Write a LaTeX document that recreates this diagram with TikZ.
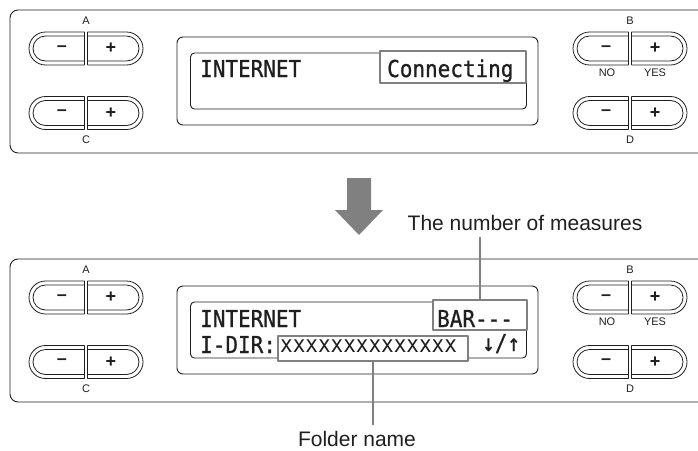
\documentclass[tikz,border=0pt]{standalone}
\usepackage{fontspec}
\setmainfont{Liberation Sans}
\newfontfamily\lcdfont[FakeStretch=0.9, FakeBold=0.8]{DejaVu Sans Mono}
\newfontfamily\thinlcdfont[FakeStretch=0.9]{DejaVu Sans Mono}
\definecolor{ink}{gray}{0.12}
\definecolor{hlgray}{gray}{0.5}
\tikzset{
  keylbl/.style={font=\fontsize{11}{13}\selectfont, text=ink, inner sep=0pt},
  pm/.style={font=\bfseries\fontsize{18}{20}\selectfont, text=ink, inner sep=0pt},
  lcd/.style={font=\lcdfont\fontsize{23.3}{26}\selectfont, text=ink, anchor=base west, inner sep=0pt},
  thinlcd/.style={font=\thinlcdfont\fontsize{23.3}{26}\selectfont, text=ink, anchor=base west, inner sep=0pt},
  hlbox/.style={draw=hlgray, line width=2pt, fill=white, inner sep=0pt},
  callout/.style={font=\fontsize{21}{24}\selectfont, text=ink, inner sep=0pt, outer sep=7pt},
  leader/.style={draw=hlgray, line width=2pt},
}
\begin{document}
\begin{tikzpicture}[x=1pt, y=-1pt, line join=round, line cap=round]
\useasboundingbox (0,0) rectangle (698,450);
\clip (0,0) rectangle (698,450);
% panel, keys and display frame, twice
\foreach \dy/\p in {0/t,249/b}{
  \begin{scope}[yshift=-\dy pt, ink, line width=0.9pt]
    \draw[rounded corners=8pt] (10,10) rectangle (730,153);
    \draw[rounded corners=6pt] (177,37) rectangle (538,125);
    \draw[rounded corners=4pt] (190.5,53) rectangle (526.5,109);
    \foreach \cx/\cy/\k in {86/48.5/A, 630/48.5/B, 86/113/C, 630/113/D}{
      \draw[line width=0.8pt, rounded corners=16.5pt] (\cx-57,\cy-16.5) rectangle (\cx+57,\cy+16.5);
      \draw[line width=0.8pt, rounded corners=12.5pt] (\cx-53,\cy-12.5) rectangle (\cx+53,\cy+12.5);
      \fill[white] (\cx-1.8,\cy-17.5) rectangle (\cx+1.8,\cy+17.5);
      \draw[line width=0.8pt] (\cx-1.8,\cy-16.5) -- (\cx-1.8,\cy+16.5) (\cx+1.8,\cy-16.5) -- (\cx+1.8,\cy+16.5);
      \node[pm] (minus\k\p) at (\cx-24,\cy) {–};
      \node[pm] (plus\k\p) at (\cx+25,\cy) {+};
    }
    \path (86,21) node[keylbl] (lblA\p) {A} (630,21) node[keylbl] (lblB\p) {B};
    \path (86,140) node[keylbl] (lblC\p) {C} (630,140) node[keylbl] (lblD\p) {D};
    \path (607,73) node[keylbl] (no\p) {NO} (655,73) node[keylbl] (yes\p) {YES};
  \end{scope}
}
% first screen
\node[hlbox, minimum width=146pt, minimum height=32pt] (connbox) at (453,67) {};
\node[lcd] (inet1) at (200,77) {INTERNET};
\node[lcd] (conn) at (387,77) {Connecting};
% step arrow
\fill[hlgray] (347,178) -- (371,178) -- (371,210) -- (383,210) -- (359,235) -- (335,210) -- (347,210) -- cycle;
% second screen
\node[callout] (measures) at (525,223) {The number of measures};
\node[hlbox, minimum width=94pt, minimum height=30pt] (barbox) at (480,315) {};
\node[hlbox, minimum width=190pt, minimum height=25pt] (dirbox) at (373,348.5) {};
\node[lcd] (inet2) at (200,327) {INTERNET};
\node[lcd] (bar) at (437,327) {BAR---};
\node[lcd] (idir) at (200,353) {I-DIR:};
\node[thinlcd] (xs) at (280,352) {xxxxxxxxxxxxxx};
\node[lcd] (updown) at (482,351) {↓/↑};
\node[callout] (folder) at (357,439) {Folder name};
\draw[leader] (barbox.north) -- (barbox.north |- measures.south);
\draw[leader] (dirbox.south) -- (dirbox.south |- folder.north);
\end{tikzpicture}
\end{document}
